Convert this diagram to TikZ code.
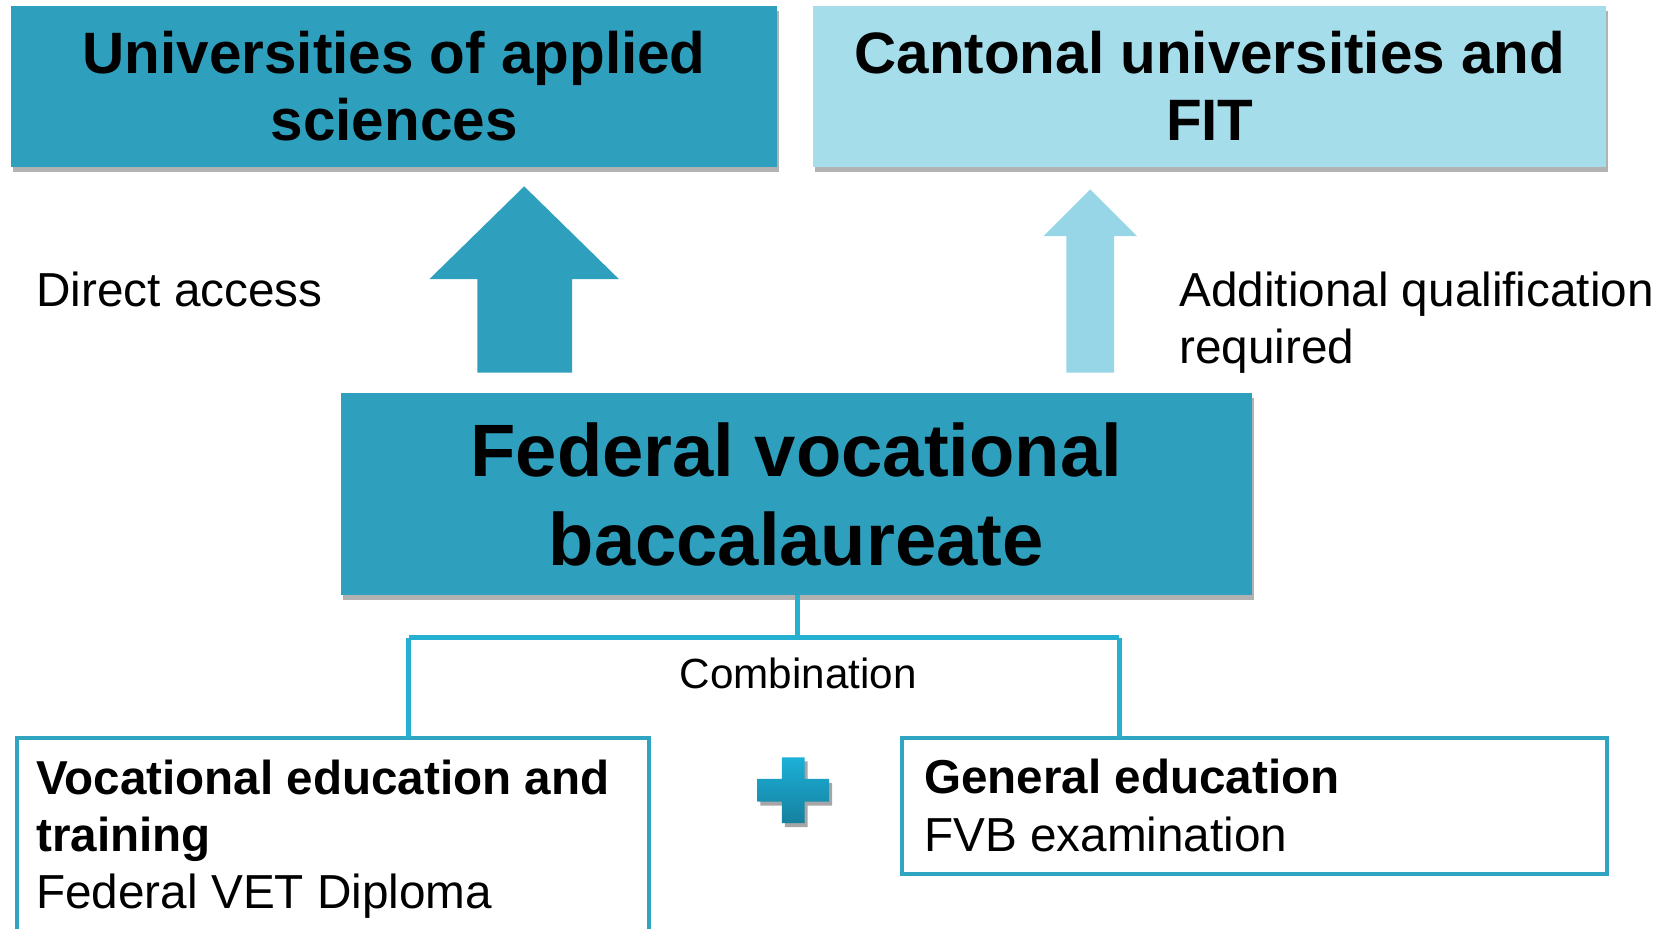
\documentclass[tikz,border=0pt]{standalone}
\usepackage{fontspec}
\setmainfont{Liberation Sans}
\usetikzlibrary{shadows}
\definecolor{teal1}{HTML}{2E9FBC}
\definecolor{light1}{HTML}{A6DDEB}
\definecolor{lightarrow}{HTML}{97D6E6}
\definecolor{conn}{HTML}{25AFD0}
\definecolor{border1}{HTML}{30A5C2}
\definecolor{plustop}{HTML}{1CB0D8}
\definecolor{plusbot}{HTML}{16809E}
\tikzset{
  boxshadow/.style={drop shadow={shadow xshift=1pt, shadow yshift=-2.5pt, opacity=0.3, fill=black}},
  topbox/.style={draw=none, boxshadow},
  frame/.style={draw=border1, line width=2pt, fill=white},
  connector/.style={draw=conn, line width=2.5pt},
  txt/.style={inner sep=0pt, anchor=base west, text=black},
  ctxt/.style={inner sep=0pt, anchor=base, text=black},
  bigfont/.style={font=\bfseries\fontsize{29.2}{33}\selectfont},
  hugefont/.style={font=\bfseries\fontsize{37.1}{44}\selectfont},
  normfont/.style={font=\fontsize{23.85}{28}\selectfont},
  normbold/.style={font=\bfseries\fontsize{23.8}{28}\selectfont},
  combfont/.style={font=\fontsize{21.1}{25}\selectfont},
}
\begin{document}
\begin{tikzpicture}[x=0.49825pt,y=-0.49825pt]
\useasboundingbox (0,0) rectangle (1667.8,931.3);
\begin{scope}
\clip (0,0) rectangle (1667.8,931.3);
% top boxes
\path[topbox, fill=teal1] (11,6) rectangle (780,168);
\node[coordinate] (uas) at (395.5,87) {};
\path[topbox, fill=light1] (816,6) rectangle (1612,168);
\node[coordinate] (cant) at (1214,87) {};
\node[ctxt, bigfont] (uas1) at (395.5,74) {Universities of applied};
\node[ctxt, bigfont] (uas2) at (395.5,141) {sciences};
\node[ctxt, bigfont] (cant1) at (1214,74) {Cantonal universities and};
\node[ctxt, bigfont] (cant2) at (1214,141) {FIT};
% arrows
\fill[teal1] (526,187) -- (621,280) -- (574,280) -- (574,374) -- (479,374) -- (479,280) -- (431,280) -- cycle;
\fill[lightarrow] (1094,190) -- (1141,237) -- (1118,237) -- (1118,374) -- (1070,374) -- (1070,237) -- (1047,237) -- cycle;
\node[txt, normfont] (direct) at (36,308) {Direct access};
\node[txt, normfont] (add1) at (1183,308) {Additional qualification};
\node[txt, normfont] (add2) at (1183,365) {required};
% central box
\path[topbox, fill=teal1] (342,394) rectangle (1256,597);
\node[coordinate] (fvbbot) at (800,597) {};
\node[ctxt, hugefont] (fvb1) at (799,478) {Federal vocational};
\node[ctxt, hugefont] (fvb2) at (799,567) {baccalaureate};
% bottom boxes
\path[frame] (17,741) rectangle (651,960);
\node[coordinate] (vettop) at (410,741) {};
\path[frame] (905,741) rectangle (1613,877);
\node[coordinate] (gentop) at (1123,741) {};
\node[txt, normbold] (vet1) at (36,797) {Vocational education and};
\node[txt, normbold] (vet2) at (36,854) {training};
\node[txt, normfont] (vet3) at (36,912) {Federal VET Diploma};
\node[txt, normbold] (gen1) at (927,796) {General education};
\node[txt, normfont] (gen2) at (927,854) {FVB examination};
% connectors
\coordinate (junction) at (800,640);
\coordinate (leftc) at (410,640);
\coordinate (rightc) at (1123,640);
\draw[connector] (fvbbot) -- (junction);
\draw[connector] (leftc) -- (rightc);
\draw[connector] (leftc) -- (vettop);
\draw[connector] (rightc) -- (gentop);
\node[ctxt, combfont] (comb) at (801,691) {Combination};
% plus sign
\path[top color=plustop, bottom color=plusbot, drop shadow={shadow xshift=1.5pt, shadow yshift=-2pt, opacity=0.35, fill=black}]
  (784.5,760) -- (807.5,760) -- (807.5,781.5) -- (832,781.5) -- (832,804.5) -- (807.5,804.5) -- (807.5,826) -- (784.5,826) -- (784.5,804.5) -- (760,804.5) -- (760,781.5) -- (784.5,781.5) -- cycle;
\end{scope}
\end{tikzpicture}
\end{document}
